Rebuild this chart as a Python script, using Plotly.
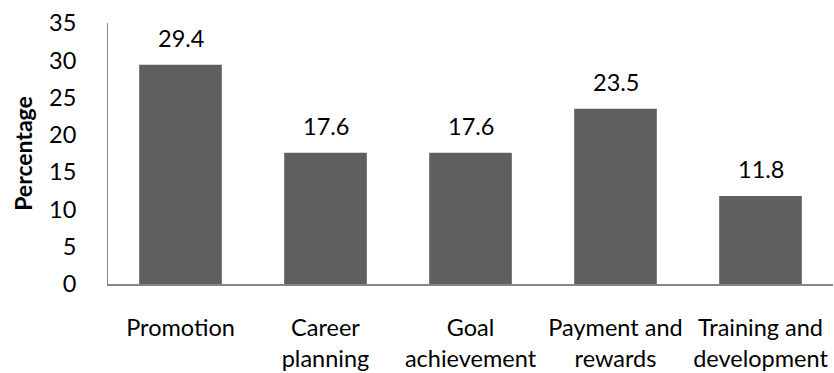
import plotly.graph_objects as go

# Share of responses per career factor
categories = ["Promotion", "Career<br>planning", "Goal<br>achievement",
              "Payment and<br>rewards", "Training and<br>development"]
values = [29.4, 17.6, 17.6, 23.5, 11.8]
y_ticks = [0, 5, 10, 15, 20, 25, 30, 35]

BAR_COLOR = "#5f5f5f"
AXIS_COLOR = "#868686"
FONT = "Lato"
SIZE = 23.5

fig = go.Figure(
    go.Bar(
        x=categories,
        y=values,
        marker=dict(color=BAR_COLOR, line=dict(width=0)),
        width=0.57,
        hoverinfo="skip",
    )
)

# Value labels floating above each bar
for cat, v in zip(categories, values):
    fig.add_annotation(
        x=cat, y=v, text=f"{v:.1f}", showarrow=False,
        yanchor="bottom", yshift=11,
        font=dict(family=FONT, size=SIZE, color="#000000"),
    )

fig.update_layout(
    width=834, height=373,
    margin=dict(l=108, r=1, t=23, b=86),
    paper_bgcolor="white", plot_bgcolor="white",
    showlegend=False,
    font=dict(family=FONT, size=SIZE, color="#000000"),
)

fig.update_xaxes(
    showline=True, linecolor=AXIS_COLOR, linewidth=1.5,
    showgrid=False, ticks="", ticklabelstandoff=22,
    tickfont=dict(family=FONT, size=SIZE),
)
fig.update_yaxes(
    range=[0, 35], tickvals=y_ticks, showline=True, linecolor=AXIS_COLOR,
    linewidth=1, showgrid=False, zeroline=False, ticks="",
    ticklabelstandoff=26,
    tickfont=dict(family=FONT, size=SIZE),
    title=dict(text="<b>Percentage</b>", standoff=9,
               font=dict(family=FONT, size=23)),
)

fig.write_html("out.html")
